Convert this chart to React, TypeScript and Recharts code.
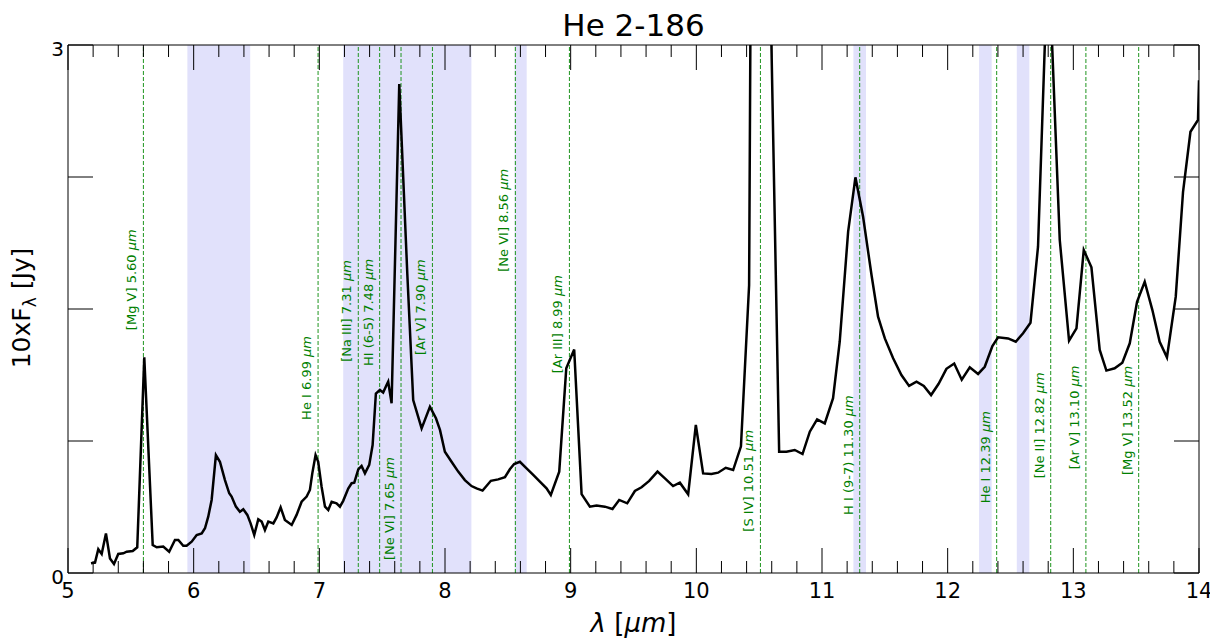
import React from "react";
import {
  ComposedChart,
  Line,
  XAxis,
  YAxis,
  ReferenceArea,
  ReferenceLine,
  ReferenceDot,
} from "recharts";

// spectrum: wavelength (um) and 10xF_lambda (Jy)
const wavelength = [
  5.183, 5.215, 5.241, 5.268, 5.302, 5.334, 5.366, 5.4, 5.44, 5.467, 5.515, 5.551,
  5.607, 5.674, 5.706, 5.758, 5.805, 5.851, 5.878, 5.917, 5.944, 5.984, 6.024, 6.064,
  6.09, 6.116, 6.143, 6.177, 6.209, 6.249, 6.283, 6.302, 6.336, 6.368, 6.395, 6.427,
  6.453, 6.482, 6.514, 6.541, 6.567, 6.594, 6.634, 6.66, 6.692, 6.726, 6.78, 6.819,
  6.859, 6.899, 6.925, 6.944, 6.97, 6.991, 7.018, 7.045, 7.071, 7.098, 7.137, 7.164,
  7.19, 7.23, 7.257, 7.278, 7.31, 7.336, 7.363, 7.397, 7.424, 7.45, 7.482, 7.508,
  7.535, 7.548, 7.575, 7.636, 7.7, 7.747, 7.814, 7.88, 7.928, 7.96, 7.999, 8.052,
  8.105, 8.158, 8.211, 8.251, 8.299, 8.33, 8.365, 8.423, 8.477, 8.516, 8.55, 8.596,
  8.649, 8.702, 8.755, 8.808, 8.842, 8.909, 8.965, 9.028, 9.087, 9.153, 9.206, 9.272,
  9.333, 9.386, 9.45, 9.511, 9.564, 9.625, 9.691, 9.75, 9.815, 9.869, 9.935, 9.996,
  10.054, 10.12, 10.173, 10.234, 10.293, 10.355, 10.42, 10.48, 10.54, 10.595, 10.659, 10.717,
  10.783, 10.845, 10.903, 10.961, 11.022, 11.088, 11.141, 11.208, 11.266, 11.327, 11.394, 11.446,
  11.5, 11.566, 11.632, 11.693, 11.752, 11.81, 11.868, 11.928, 11.99, 12.052, 12.112, 12.176,
  12.242, 12.295, 12.356, 12.401, 12.481, 12.542, 12.6, 12.659, 12.719, 12.8, 12.892, 12.966,
  13.025, 13.083, 13.144, 13.21, 13.263, 13.329, 13.39, 13.449, 13.507, 13.568, 13.629, 13.687,
  13.745, 13.815, 13.873, 13.932, 13.992, 14.0,
];
const flux = [
  0.055, 0.059, 0.135, 0.108, 0.225, 0.083, 0.051, 0.108, 0.112, 0.121, 0.125, 0.146,
  1.225, 0.159, 0.146, 0.15, 0.121, 0.188, 0.188, 0.155, 0.155, 0.178, 0.216, 0.225,
  0.254, 0.32, 0.415, 0.67, 0.632, 0.528, 0.453, 0.434, 0.377, 0.348, 0.362, 0.33,
  0.282, 0.216, 0.305, 0.292, 0.244, 0.292, 0.282, 0.316, 0.373, 0.301, 0.273, 0.33,
  0.405, 0.434, 0.472, 0.566, 0.67, 0.632, 0.49, 0.377, 0.358, 0.405, 0.396, 0.377,
  0.41, 0.48, 0.51, 0.513, 0.589, 0.608, 0.566, 0.614, 0.727, 1.02, 1.04, 1.025,
  1.068, 1.087, 0.964, 2.778, 1.7, 0.983, 0.822, 0.945, 0.879, 0.813, 0.689, 0.632,
  0.576, 0.528, 0.494, 0.481, 0.468, 0.494, 0.524, 0.532, 0.544, 0.589, 0.619, 0.632,
  0.595, 0.557, 0.519, 0.481, 0.443, 0.576, 1.163, 1.27, 0.448, 0.377, 0.383, 0.377,
  0.364, 0.415, 0.396, 0.466, 0.487, 0.523, 0.576, 0.538, 0.494, 0.513, 0.447, 0.841,
  0.566, 0.563, 0.57, 0.598, 0.585, 0.72, 1.636, 10, 9, 3.1, 0.689, 0.689,
  0.699, 0.676, 0.803, 0.873, 0.85, 0.993, 1.314, 1.94, 2.248, 2.024, 1.693, 1.456,
  1.333, 1.22, 1.125, 1.063, 1.087, 1.063, 1.011, 1.075, 1.16, 1.19, 1.098, 1.169,
  1.131, 1.172, 1.29, 1.339, 1.333, 1.314, 1.362, 1.422, 1.854, 3.57, 1.892, 1.32,
  1.39, 1.835, 1.737, 1.267, 1.15, 1.163, 1.195, 1.305, 1.541, 1.655, 1.494, 1.314,
  1.225, 1.57, 2.166, 2.507, 2.574, 2.8,
];

// shaded wavelength windows
const bandStart = [5.95, 7.19, 8.555, 11.25, 12.25, 12.55];
const bandEnd = [6.45, 8.21, 8.65, 11.35, 12.35, 12.65];

// identified lines
const lineNames = [
  "[Mg V]", "He I", "[Na III]", "HI (6-5)", "[Ne VI]", "[Ar V]", "[Ne VI]",
  "[Ar III]", "[S IV]", "H I (9-7)", "He I", "[Ne II]", "[Ar V]", "[Mg V]",
];
const lineWave = [5.6, 6.99, 7.31, 7.48, 7.65, 7.9, 8.56, 8.99, 10.51, 11.3, 12.39, 12.82, 13.1, 13.52];
// flux level where each rotated label starts
const labelLevel = [1.38, 0.87, 1.2, 1.176, 0.074, 1.239, 1.712, 1.135, 0.235, 0.33, 0.396, 0.538, 0.589, 0.557];

const xMajor = [5, 6, 7, 8, 9, 10, 11, 12, 13, 14];
const xTicks = [
  5, 5.2, 5.4, 5.6, 5.8, 6, 6.2, 6.4, 6.6, 6.8, 7, 7.2, 7.4, 7.6, 7.8, 8, 8.2, 8.4, 8.6, 8.8,
  9, 9.2, 9.4, 9.6, 9.8, 10, 10.2, 10.4, 10.6, 10.8, 11, 11.2, 11.4, 11.6, 11.8, 12, 12.2,
  12.4, 12.6, 12.8, 13, 13.2, 13.4, 13.6, 13.8, 14,
];
const yTicks = [0, 0.75, 1.5, 2.25, 3];
const yLabelled = [0, 3];

const GREEN = "#008000";
const GREEN_LINE = "#1f951f";
const BAND = "#e1e1fb";
const FONT = "'DejaVu Sans', sans-serif";

const data = wavelength.map((w, i) => ({ w, f: flux[i] }));

const isMajor = (v: number) => xMajor.some((m) => Math.abs(m - v) < 1e-6);

function BottomTick(props: any) {
  const { x, y, payload } = props;
  const major = isMajor(payload.value);
  return (
    <g>
      <line x1={x} y1={y} x2={x} y2={y - (major ? 25 : 12)} stroke="#000" strokeWidth={1} />
      {major && (
        <text x={x} y={y + 25} textAnchor="middle" fontSize={21} fontFamily={FONT} fill="#000">
          {payload.value}
        </text>
      )}
    </g>
  );
}

function TopTick(props: any) {
  const { x, y, payload } = props;
  const major = isMajor(payload.value);
  return <line x1={x} y1={y} x2={x} y2={y + (major ? 25 : 12)} stroke="#000" strokeWidth={1} />;
}

function LeftTick(props: any) {
  const { x, y, payload } = props;
  const show = yLabelled.includes(payload.value);
  return (
    <g>
      <line x1={x} y1={y} x2={x + 25} y2={y} stroke="#000" strokeWidth={1} />
      {show && (
        <text x={x - 4} y={y + 10.5} textAnchor="end" fontSize={20} fontFamily={FONT} fill="#000">
          {payload.value}
        </text>
      )}
    </g>
  );
}

function RightTick(props: any) {
  const { x, y } = props;
  return <line x1={x} y1={y} x2={x - 25} y2={y} stroke="#000" strokeWidth={1} />;
}

function lineLabel(name: string, wave: number) {
  return (p: any) => {
    const tx = p.cx - 7;
    const ty = p.cy;
    return (
      <text
        x={tx}
        y={ty}
        transform={`rotate(-90 ${tx} ${ty})`}
        fontSize={13}
        fontFamily={FONT}
        fill={GREEN}
      >
        {`${name} ${wave.toFixed(2)} `}
        <tspan fontStyle="italic">μm</tspan>
      </text>
    );
  };
}

export default function App() {
  return (
    <div style={{ position: "relative", width: 1210, height: 631, fontFamily: FONT }}>
      <div
        style={{
          position: "absolute",
          left: 60,
          width: 1131,
          top: -1,
          textAlign: "center",
          fontSize: 31,
          lineHeight: "36px",
        }}
      >
        He 2-186
      </div>
      <div
        style={{
          position: "absolute",
          left: 15,
          top: 300,
          fontSize: 25,
          whiteSpace: "nowrap",
          transform: "translate(-50%, -50%) rotate(-90deg)",
        }}
      >
        10xF<sub style={{ fontSize: 17 }}>λ</sub> [Jy]
      </div>
      <div
        style={{
          position: "absolute",
          left: 60,
          width: 1131,
          top: 600,
          textAlign: "center",
          fontSize: 26,
          lineHeight: "30px",
        }}
      >
        <i>λ</i> [<i>μm</i>]
      </div>
      <ComposedChart
        width={1210}
        height={631}
        data={data}
        margin={{ top: 0, right: 0, bottom: 0, left: 0 }}
        style={{ position: "absolute", left: 0, top: 0 }}
      >
        <XAxis
          xAxisId="b"
          dataKey="w"
          type="number"
          domain={[5, 14]}
          allowDataOverflow
          ticks={xTicks}
          interval={0}
          height={66}
          tickSize={0}
          tickMargin={0}
          tickLine={false}
          tick={<BottomTick />}
          axisLine={{ stroke: "#000", strokeWidth: 1 }}
        />
        <XAxis
          xAxisId="t"
          orientation="top"
          dataKey="w"
          type="number"
          domain={[5, 14]}
          allowDataOverflow
          ticks={xTicks}
          interval={0}
          height={37}
          tickSize={0}
          tickMargin={0}
          tickLine={false}
          tick={<TopTick />}
          axisLine={{ stroke: "#000", strokeWidth: 1 }}
        />
        <YAxis
          yAxisId="l"
          type="number"
          domain={[0, 3]}
          allowDataOverflow
          ticks={yTicks}
          interval={0}
          width={60}
          tickSize={0}
          tickMargin={0}
          tickLine={false}
          tick={<LeftTick />}
          axisLine={{ stroke: "#000", strokeWidth: 1 }}
        />
        <YAxis
          yAxisId="r"
          orientation="right"
          type="number"
          domain={[0, 3]}
          allowDataOverflow
          ticks={yTicks}
          interval={0}
          width={19}
          tickSize={0}
          tickMargin={0}
          tickLine={false}
          tick={<RightTick />}
          axisLine={{ stroke: "#000", strokeWidth: 1 }}
        />

        {bandStart.map((s, i) => (
          <ReferenceArea
            key={`band-${i}`}
            xAxisId="b"
            yAxisId="l"
            x1={s}
            x2={bandEnd[i]}
            fill={BAND}
            fillOpacity={1}
            stroke="none"
          />
        ))}

        {lineWave.map((w, i) => (
          <ReferenceLine
            key={`ln-${i}`}
            xAxisId="b"
            yAxisId="l"
            x={w}
            stroke={GREEN_LINE}
            strokeWidth={1}
            strokeDasharray="4 2"
          />
        ))}

        {lineWave.map((w, i) => (
          <ReferenceDot
            key={`lb-${i}`}
            xAxisId="b"
            yAxisId="l"
            x={w}
            y={labelLevel[i]}
            shape={lineLabel(lineNames[i], w)}
          />
        ))}

        <Line
          xAxisId="b"
          yAxisId="l"
          dataKey="f"
          type="linear"
          stroke="#000"
          strokeWidth={2.5}
          dot={false}
          isAnimationActive={false}
        />
      </ComposedChart>
    </div>
  );
}
